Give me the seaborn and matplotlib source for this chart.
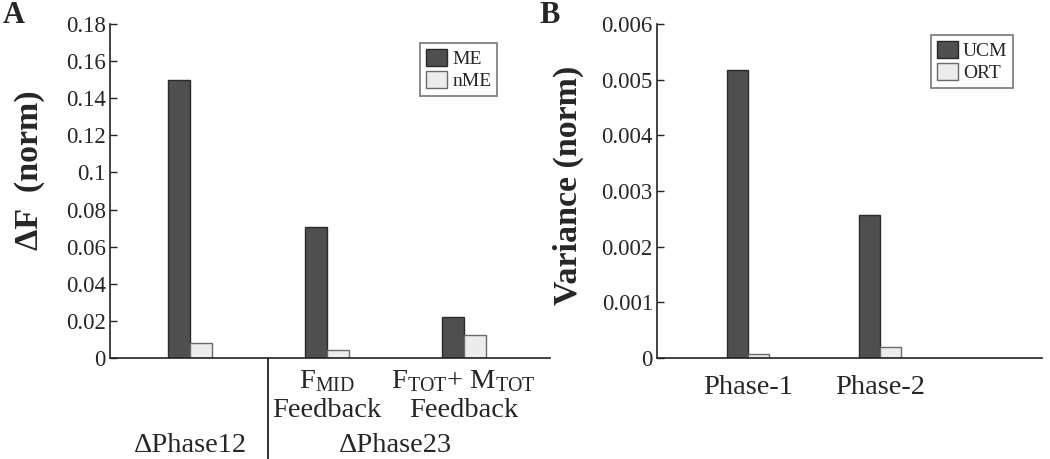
import matplotlib
matplotlib.use("Agg")
import matplotlib.pyplot as plt
from matplotlib.patches import Patch
import seaborn as sns
import pandas as pd
import numpy as np

# ---- data ----
groups_a = ["ΔPhase12", "F_MID", "F_TOT+M_TOT"]
me_vals = [0.150, 0.0705, 0.022]
nme_vals = [0.008, 0.0045, 0.0125]
series_a = ["ME", "nME"]

groups_b = ["Phase-1", "Phase-2"]
ucm_vals = [0.00517, 0.00257]
ort_vals = [0.00008, 0.00019]
series_b = ["UCM", "ORT"]

yticks_a = [0, 0.02, 0.04, 0.06, 0.08, 0.1, 0.12, 0.14, 0.16, 0.18]
yticklabels_a = ["0", "0.02", "0.04", "0.06", "0.08", "0.1", "0.12", "0.14", "0.16", "0.18"]
yticks_b = [0, 0.001, 0.002, 0.003, 0.004, 0.005, 0.006]
yticklabels_b = ["0", "0.001", "0.002", "0.003", "0.004", "0.005", "0.006"]

sns.set_theme(style="white")
plt.rcParams["font.family"] = ["Liberation Serif", "DejaVu Serif"]
plt.rcParams["mathtext.fontset"] = "custom"
plt.rcParams["mathtext.rm"] = "Liberation Serif"
plt.rcParams["mathtext.it"] = "Liberation Serif:italic"
plt.rcParams["mathtext.bf"] = "Liberation Serif:bold"

dark = "#4f4f4f"
light = "#ececec"
dark_edge = "#2a2a2a"
light_edge = "#6a6a6a"
pal_a = {series_a[0]: dark, series_a[1]: light}
pal_b = {series_b[0]: dark, series_b[1]: light}

df_a = pd.DataFrame({
    "group": groups_a * 2,
    "series": [series_a[0]] * 3 + [series_a[1]] * 3,
    "value": me_vals + nme_vals,
})
df_b = pd.DataFrame({
    "group": groups_b * 2,
    "series": [series_b[0]] * 2 + [series_b[1]] * 2,
    "value": ucm_vals + ort_vals,
})

fig = plt.figure(figsize=(10.5, 4.59), dpi=100)
ax_a = fig.add_axes([110 / 1050, 101 / 459, 440 / 1050, 334 / 459])
ax_b = fig.add_axes([657 / 1050, 101 / 459, 385 / 1050, 334 / 459])


def style(ax, df, pal, xlim, ylim, yticks, yticklabels, ylabel):
    sns.barplot(data=df, x="group", y="value", hue="series", palette=pal,
                width=0.32, gap=0, ax=ax, legend=False, saturation=1)
    for cont in ax.containers:
        for p in cont.patches:
            fc = p.get_facecolor()
            p.set_edgecolor(dark_edge if fc[0] < 0.5 else light_edge)
            p.set_linewidth(1.0)
    ax.set_xlim(*xlim)
    ax.set_ylim(*ylim)
    ax.set_yticks(yticks)
    ax.set_yticklabels(yticklabels, fontsize=16.5)
    ax.tick_params(axis="y", direction="in", length=5, width=1, color="#222222",
                   left=True, pad=3)
    ax.tick_params(axis="x", length=0)
    for s in ["top", "right"]:
        ax.spines[s].set_visible(False)
    for s in ["left", "bottom"]:
        ax.spines[s].set_color("#222222")
        ax.spines[s].set_linewidth(1.2)
    ax.set_xlabel("")
    ax.set_ylabel(ylabel, fontsize=24.5, fontweight="bold")


style(ax_a, df_a, pal_a, (-0.584, 2.63), (0, 0.18), yticks_a, yticklabels_a, "ΔF  (norm)")
style(ax_b, df_b, pal_b, (-0.69, 2.23), (0, 0.006), yticks_b, yticklabels_b, "Variance (norm)")

ax_a.yaxis.set_label_coords(-0.148, 0.563)
ax_b.yaxis.set_label_coords(-0.190, 0.518)

# x labels panel A
ax_a.set_xticks([0, 1, 2])
ax_a.set_xticklabels(["", "", ""])
tr = ax_a.get_xaxis_transform()
fs = 20.5
ax_a.text(1, -0.03, r"$\mathrm{F_{MID}}$", transform=tr, ha="center", va="top", fontsize=fs)
ax_a.text(2, -0.03, r"$\mathrm{F_{TOT}}$+ $\mathrm{M_{TOT}}$", transform=tr, ha="center", va="top", fontsize=fs)
ax_a.text(1, -0.12, "Feedback", transform=tr, ha="center", va="top", fontsize=fs)
ax_a.text(2, -0.12, "Feedback", transform=tr, ha="center", va="top", fontsize=fs)
ax_a.text(0, -0.225, groups_a[0], transform=tr, ha="center", va="top", fontsize=fs)
ax_a.text(1.5, -0.225, "ΔPhase23", transform=tr, ha="center", va="top", fontsize=fs)
ax_a.plot([0.57, 0.57], [0, -0.31], transform=tr, color="#222222", lw=1.3, clip_on=False)

# x labels panel B
ax_b.set_xticks([0, 1])
ax_b.set_xticklabels(groups_b, fontsize=fs)
ax_b.tick_params(axis="x", pad=12)

leg_kw = dict(loc="upper right", frameon=True, fancybox=False, fontsize=14,
              handlelength=1.1, handleheight=1.0, handletextpad=0.25,
              labelspacing=0.12, borderpad=0.3, borderaxespad=0)


def handles(names):
    return [Patch(facecolor=dark, edgecolor=dark_edge, linewidth=1.0, label=names[0]),
            Patch(facecolor=light, edgecolor=light_edge, linewidth=1.0, label=names[1])]


la = ax_a.legend(handles=handles(series_a), bbox_to_anchor=(0.88, 0.943), **leg_kw)
lb = ax_b.legend(handles=handles(series_b), bbox_to_anchor=(0.925, 0.967), **leg_kw)
for lg in (la, lb):
    lg.get_frame().set_edgecolor("#555555")
    lg.get_frame().set_linewidth(1.2)

fig.text(0.003, 0.997, "A", fontsize=22, fontweight="bold", va="top", ha="left")
fig.text(0.514, 0.997, "B", fontsize=22, fontweight="bold", va="top", ha="left")

fig.savefig("out.png", dpi=100, facecolor="white")
